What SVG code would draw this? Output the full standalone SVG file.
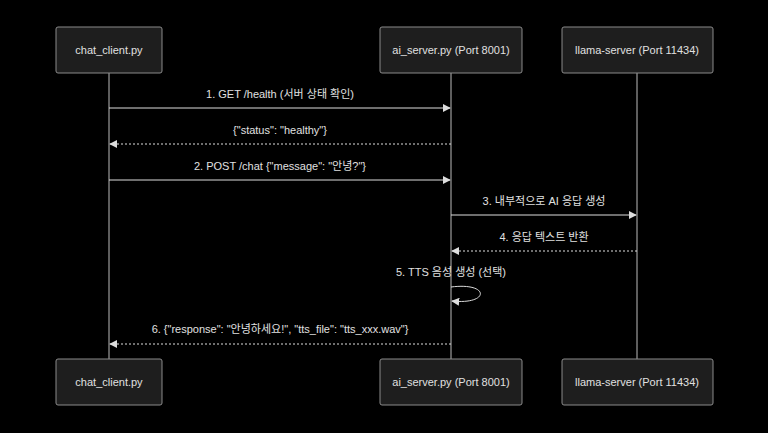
<svg xmlns="http://www.w3.org/2000/svg" width="768" height="433" viewBox="0 0 768 433">
<style>
.box{fill:#1e1e1e;stroke:#8a8a8a;stroke-width:1}
.t{font-family:"Liberation Sans","Noto Sans CJK KR",sans-serif;font-size:11px;fill:#e0e0e0;text-anchor:middle}
.life{stroke:#bbb;stroke-width:1}
.m{stroke:#ddd;stroke-width:1;fill:none;marker-end:url(#a)}
.d{stroke-dasharray:2,2}
</style>
<defs><marker id="a" viewBox="0 0 10 10" refX="9" refY="5" markerWidth="8" markerHeight="8" orient="auto"><path d="M0,0L10,5L0,10z" fill="#ddd"/></marker></defs>
<rect width="768" height="433" fill="#000"/>
<g id="lifelines">
<line class="life" x1="109" y1="73" x2="109" y2="359"/>
<line class="life" x1="451" y1="73" x2="451" y2="359"/>
<line class="life" x1="637" y1="73" x2="637" y2="359"/>
</g>
<g id="client"><rect class="box" x="56" y="27" width="106" height="46" rx="2"/><text class="t" x="109" y="54">chat_client.py</text>
<rect class="box" x="56" y="359" width="106" height="46" rx="2"/><text class="t" x="109" y="386">chat_client.py</text></g>
<g id="aiserver"><rect class="box" x="380" y="27" width="142" height="46" rx="2"/><text class="t" x="451" y="54">ai_server.py (Port 8001)</text>
<rect class="box" x="380" y="359" width="142" height="46" rx="2"/><text class="t" x="451" y="386">ai_server.py (Port 8001)</text></g>
<g id="llama"><rect class="box" x="562" y="27" width="151" height="46" rx="2"/><text class="t" x="637" y="54">llama-server (Port 11434)</text>
<rect class="box" x="562" y="359" width="151" height="46" rx="2"/><text class="t" x="637" y="386">llama-server (Port 11434)</text></g>
<g id="connectors">
<line class="m" x1="109" y1="108" x2="450" y2="108"/><text class="t" x="280" y="98">1. GET /health (서버 상태 확인)</text>
<line class="m d" x1="451" y1="144" x2="110" y2="144"/><text class="t" x="280" y="134">{"status": "healthy"}</text>
<line class="m" x1="109" y1="180" x2="450" y2="180"/><text class="t" x="280" y="170">2. POST /chat {"message": "안녕?"}</text>
<line class="m" x1="451" y1="215" x2="636" y2="215"/><text class="t" x="544" y="205">3. 내부적으로 AI 응답 생성</text>
<line class="m d" x1="637" y1="251" x2="452" y2="251"/><text class="t" x="544" y="241">4. 응답 텍스트 반환</text>
<path class="m" d="M451,287 C490,282 490,305 452,301"/><text class="t" x="451" y="276">5. TTS 음성 생성 (선택)</text>
<line class="m d" x1="451" y1="344" x2="110" y2="344"/><text class="t" x="280" y="333">6. {"response": "안녕하세요!", "tts_file": "tts_xxx.wav"}</text>
</g>
</svg>
